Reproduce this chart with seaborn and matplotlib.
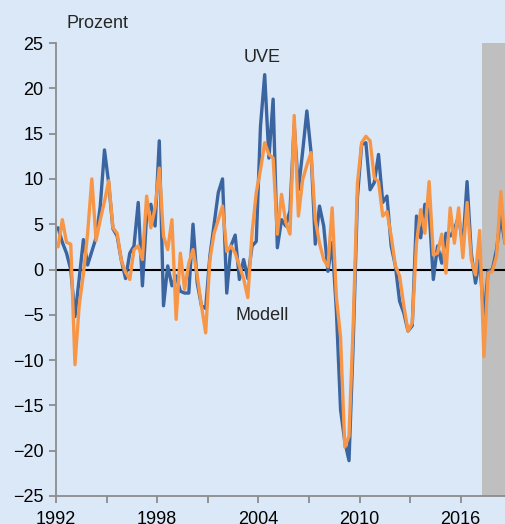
import numpy as np
import pandas as pd
import matplotlib
matplotlib.use("Agg")
import matplotlib.pyplot as plt
import seaborn as sns

# quarterly values, 1992Q1 .. 2018Q3 (percent)
uve = [4.6, 3.0, 1.8, 0.0, -5.2, -1.0, 3.3, 0.5, 2.0, 3.5,
       7.0, 13.2, 9.5, 4.5, 3.7, 1.0, -1.0, 1.8, 2.6, 7.4,
       -1.8, 6.0, 7.2, 4.8, 14.2, -4.0, 0.4, -1.8, -0.7, -2.4,
       -2.6, -2.6, 5.0, -1.5, -4.0, -4.3, 1.5, 5.0, 8.5, 10.0,
       -2.6, 2.6, 3.8, -1.1, 1.1, -1.0, 2.6, 3.1, 15.8, 21.5,
       12.3, 18.8, 2.4, 5.5, 4.8, 6.5, 16.0, 8.8, 13.0, 17.5,
       12.9, 2.8, 7.0, 4.8, -0.2, 3.0, -4.5, -15.5, -19.0, -21.1,
       -8.0, 8.0, 13.8, 14.0, 8.8, 9.6, 12.7, 7.4, 8.1, 2.6,
       0.4, -3.5, -4.8, -6.8, -6.2, 5.9, 3.5, 7.2, 6.4, -1.1,
       2.6, 0.7, 4.0, 3.7, 4.4, 5.9, 2.6, 9.7, 1.8, -1.5,
       1.1, -5.5, -0.2, 0.0, 2.2, 5.9, 2.9]
modell = [2.5, 5.5, 3.0, 2.8, -10.5, -4.0, -0.5, 4.0, 10.0, 3.2,
          5.5, 7.5, 9.8, 4.6, 4.0, 1.0, -0.3, -1.1, 2.2, 2.6,
          1.1, 8.1, 4.6, 6.8, 11.2, 3.7, 2.2, 5.5, -5.5, 1.8,
          -2.2, 0.7, 2.2, -0.7, -4.0, -7.0, 1.1, 4.0, 5.5, 7.0,
          2.0, 2.6, 1.8, 0.4, -1.0, -3.1, 4.0, 8.5, 11.0, 14.0,
          12.7, 12.3, 3.9, 8.3, 5.2, 3.9, 17.0, 5.9, 9.9, 11.5,
          12.9, 5.5, 2.9, 1.1, 0.3, 6.8, -3.0, -7.5, -19.6, -18.4,
          -6.0, 9.5, 14.0, 14.7, 14.2, 10.1, 9.7, 5.9, 6.4, 3.7,
          0.4, -0.7, -4.0, -6.8, -5.9, 2.9, 6.6, 4.0, 9.7, 1.6,
          1.8, 3.9, -0.4, 6.8, 2.9, 6.8, 1.3, 7.4, 1.1, -0.6,
          4.3, -9.6, -0.4, -0.2, 1.5, 8.6, 2.9]
start_year = 1992
shade_from = 2017.25
year_ticks = list(range(1992, 2017, 3))
year_labels = [str(y) if (y - 1992) % 6 == 0 else "" for y in year_ticks]
y_ticks = list(range(-25, 26, 5))

t = start_year + (np.arange(len(uve)) + 0.5) / 4
df = pd.DataFrame({"t": t, "UVE": uve, "Modell": modell})

sns.set_theme(style="ticks")
plt.rcParams["font.family"] = ["Liberation Sans", "DejaVu Sans"]

bg = "#dbe8f7"
fig = plt.figure(figsize=(5.05, 5.24), dpi=100, facecolor=bg)
ax = fig.add_axes([56 / 505, 1 - 496 / 524, 449 / 505, 453 / 524])
ax.set_facecolor(bg)

ax.axvspan(shade_from, t[-1] + 0.1, color="#bfbfbf", lw=0, zorder=0)
ax.axhline(0, color="black", lw=1.5, zorder=1)

sns.lineplot(data=df, x="t", y="UVE", ax=ax, color="#3a65a0", lw=2.4, zorder=2)
sns.lineplot(data=df, x="t", y="Modell", ax=ax, color="#f79646", lw=2.4, zorder=3)

ax.set_xlim(1992, t[-1])
ax.set_ylim(-25, 25)
ax.set_xticks(year_ticks)
ax.set_xticklabels(year_labels)
ax.set_yticks(y_ticks)
ax.set_xlabel("")
ax.set_ylabel("")

for s in ["top", "right"]:
    ax.spines[s].set_visible(False)
for s in ["left", "bottom"]:
    ax.spines[s].set_color("#8c8c8c")
    ax.spines[s].set_linewidth(1.3)
ax.tick_params(axis="both", colors="#8c8c8c", labelcolor="black",
               labelsize=13, length=5, width=1.3)
ax.tick_params(axis="x", pad=6)
ax.tick_params(axis="y", pad=4)

ax.text(1992.6, 27.2, "Prozent", fontsize=13, ha="left", va="center", clip_on=False)
ax.text(2004.2, 23.4, "UVE", fontsize=13, ha="center", va="center")
ax.text(2004.2, -5.1, "Modell", fontsize=13, ha="center", va="center")

fig.savefig("out.png", dpi=100, facecolor=bg)
